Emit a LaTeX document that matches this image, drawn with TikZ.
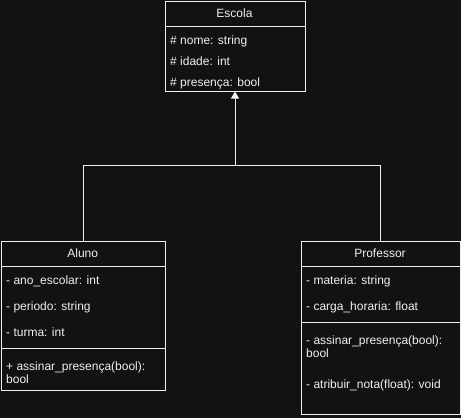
\documentclass[tikz,border=0pt]{standalone}
\usepackage{fontspec}
\setmainfont{Liberation Sans}
\usetikzlibrary{arrows.meta}
\definecolor{bg}{HTML}{121212}
\definecolor{fg}{HTML}{F0F0F0}
\begin{document}
\begin{tikzpicture}[x=1pt,y=-1pt,
  classbox/.style={draw=fg,line width=1pt,fill=bg,anchor=north west,inner sep=0pt},
  txt/.style={anchor=base west,inner sep=0pt,text=fg,font=\fontsize{12}{14}\selectfont},
  ttl/.style={anchor=base,inner sep=0pt,text=fg,font=\fontsize{12}{14}\selectfont},
  sep/.style={draw=fg,line width=1pt},
  conn/.style={draw=fg,line width=1pt}]
\fill[bg] (0,0) rectangle (461,418);
\useasboundingbox (0,0) rectangle (461,418);
% boxes
\node[classbox,minimum width=140pt,minimum height=89.5pt] (escola) at (164.5,1) {};
\node[classbox,minimum width=163.5pt,minimum height=149.5pt] (aluno) at (1,240.5) {};
\node[classbox,minimum width=159pt,minimum height=173pt] (prof) at (300.5,240.5) {};
% separators
\draw[sep] (escola.west |- 0,26.5) -- (escola.east |- 0,26.5);
\draw[sep] (aluno.west |- 0,266) -- (aluno.east |- 0,266);
\draw[sep] (aluno.west |- 0,348) -- (aluno.east |- 0,348);
\draw[sep] (prof.west |- 0,266) -- (prof.east |- 0,266);
\draw[sep] (prof.west |- 0,322) -- (prof.east |- 0,322);
% Escola texts
\node[ttl] (escT) at (234.5,17.3) {Escola};
\node[txt] (esc1) at (170,44.3) {\# nome: string};
\node[txt] (esc2) at (170,65.7) {\# idade: int};
\node[txt] (esc3) at (170,86) {\# presença: bool};
% Aluno texts
\node[ttl] (alT) at (82.75,257.3) {Aluno};
\node[txt] (al1) at (6,284) {- ano\_escolar: int};
\node[txt] (al2) at (6,310.3) {- periodo: string};
\node[txt] (al3) at (6,336) {- turma: int};
\node[txt] (al4) at (6,370.7) {+ assinar\_presença(bool):};
\node[txt] (al5) at (6,383.3) {bool};
% Professor texts
\node[ttl] (prT) at (380,257.3) {Professor};
\node[txt] (pr1) at (306,284) {- materia: string};
\node[txt] (pr2) at (306,310) {- carga\_horaria: float};
\node[txt] (pr3) at (306,344) {- assinar\_presença(bool):};
\node[txt] (pr4) at (306,357.3) {bool};
\node[txt] (pr5) at (306,388) {- atribuir\_nota(float): void};
% connectors
\coordinate (junc) at (escola.south |- 0,165.5);
\draw[conn] (aluno.north) |- (junc) -| (prof.north);
\draw[conn,-{Triangle[width=8pt,length=7pt,fill=fg]}] (junc) -- (escola.south);
\end{tikzpicture}
\end{document}
